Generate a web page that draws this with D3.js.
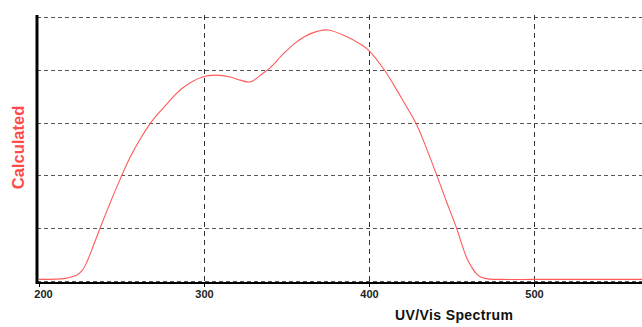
<!DOCTYPE html>
<html>
<head>
<meta charset="utf-8">
<script src="https://cdn.jsdelivr.net/npm/d3@7"></script>
<style>
  html, body { margin: 0; padding: 0; background: #fff; }
  svg { display: block; }
</style>
</head>
<body>
<svg id="chart" width="642" height="327"></svg>
<script>
// wavelength (nm) and calculated absorbance
const wavelength = [200, 210, 216, 220, 223, 226, 229, 232, 237, 243, 249, 255, 261, 268, 278, 287, 299, 307, 316, 322, 328, 336, 340, 348, 356, 365, 375, 387, 394, 400, 409, 415, 421, 428, 432, 441, 447, 453, 459, 462, 465, 468, 472, 480, 500, 530, 566];
const calculated = [0.006, 0.007, 0.010, 0.016, 0.023, 0.038, 0.072, 0.118, 0.200, 0.294, 0.383, 0.466, 0.534, 0.602, 0.674, 0.731, 0.773, 0.780, 0.773, 0.761, 0.754, 0.788, 0.807, 0.860, 0.905, 0.938, 0.951, 0.924, 0.900, 0.873, 0.802, 0.743, 0.679, 0.603, 0.547, 0.402, 0.300, 0.201, 0.091, 0.055, 0.028, 0.014, 0.008, 0.006, 0.006, 0.006, 0.006];
const xTicks = [200, 300, 400, 500];
const yGrid = [0, 0.2, 0.4, 0.6, 0.8, 1.0];

const plotLeft = 37, plotRight = 642, plotTop = 15, plotBottom = 283;

const svg = d3.select('#chart');

const x = d3.scaleLinear()
  .domain([200, 200 + (plotRight - 39) / 1.65])
  .range([39, plotRight]);

const y = d3.scaleLinear()
  .domain([-0.0076, 1.0076])
  .range([plotBottom, plotTop]);

// grid
svg.append('g')
  .selectAll('line')
  .data(yGrid)
  .enter()
  .append('line')
  .attr('x1', plotLeft)
  .attr('x2', plotRight)
  .attr('y1', d => Math.round(y(d)) + 0.5)
  .attr('y2', d => Math.round(y(d)) + 0.5)
  .attr('stroke', '#555')
  .attr('stroke-width', 1)
  .attr('stroke-dasharray', '4,3');

svg.append('g')
  .selectAll('line')
  .data(xTicks.slice(1))
  .enter()
  .append('line')
  .attr('x1', d => Math.round(x(d)) + 0.5)
  .attr('x2', d => Math.round(x(d)) + 0.5)
  .attr('y1', plotTop)
  .attr('y2', plotBottom)
  .attr('stroke', '#333')
  .attr('stroke-width', 1)
  .attr('stroke-dasharray', '5,4');

// curve
const line = d3.line()
  .x((d, i) => x(wavelength[i]))
  .y(d => y(d))
  .curve(d3.curveCatmullRom.alpha(0.5));

svg.append('path')
  .datum(calculated)
  .attr('d', line)
  .attr('fill', 'none')
  .attr('stroke', '#ff5a5a')
  .attr('stroke-width', 1.1);

// x axis
const xAxis = svg.append('g')
  .attr('transform', 'translate(0,' + plotBottom + ')')
  .call(d3.axisBottom(x).tickValues(xTicks).tickSize(4).tickSizeOuter(0).tickFormat(d3.format('d')));
xAxis.select('.domain')
  .attr('d', 'M' + plotLeft + ',0H' + plotRight)
  .attr('stroke', '#000')
  .attr('stroke-width', 2);
xAxis.selectAll('.tick line').attr('stroke', '#000');
xAxis.selectAll('.tick text')
  .attr('y', 7)
  .attr('dx', (d, i) => i === 0 ? 4 : 0)
  .attr('fill', '#222')
  .style('font-family', 'Liberation Sans, Arial, sans-serif')
  .style('font-size', '11px')
  .style('font-weight', 'bold');

// left axis (thick)
svg.append('line')
  .attr('x1', plotLeft).attr('x2', plotLeft)
  .attr('y1', plotTop).attr('y2', plotBottom + 1)
  .attr('stroke', '#000')
  .attr('stroke-width', 3);

// titles
svg.append('text')
  .attr('x', 454)
  .attr('y', 320)
  .attr('text-anchor', 'middle')
  .attr('textLength', 118)
  .attr('fill', '#111')
  .style('font-family', 'Liberation Sans, Arial, sans-serif')
  .style('font-size', '14px')
  .style('font-weight', 'bold')
  .text('UV/Vis Spectrum');

svg.append('text')
  .attr('transform', 'translate(24,147.5) rotate(-90)')
  .attr('text-anchor', 'middle')
  .attr('fill', '#ff4a4a')
  .style('font-family', 'Liberation Sans, Arial, sans-serif')
  .style('font-size', '16.5px')
  .style('font-weight', 'bold')
  .text('Calculated');
</script>
</body>
</html>
